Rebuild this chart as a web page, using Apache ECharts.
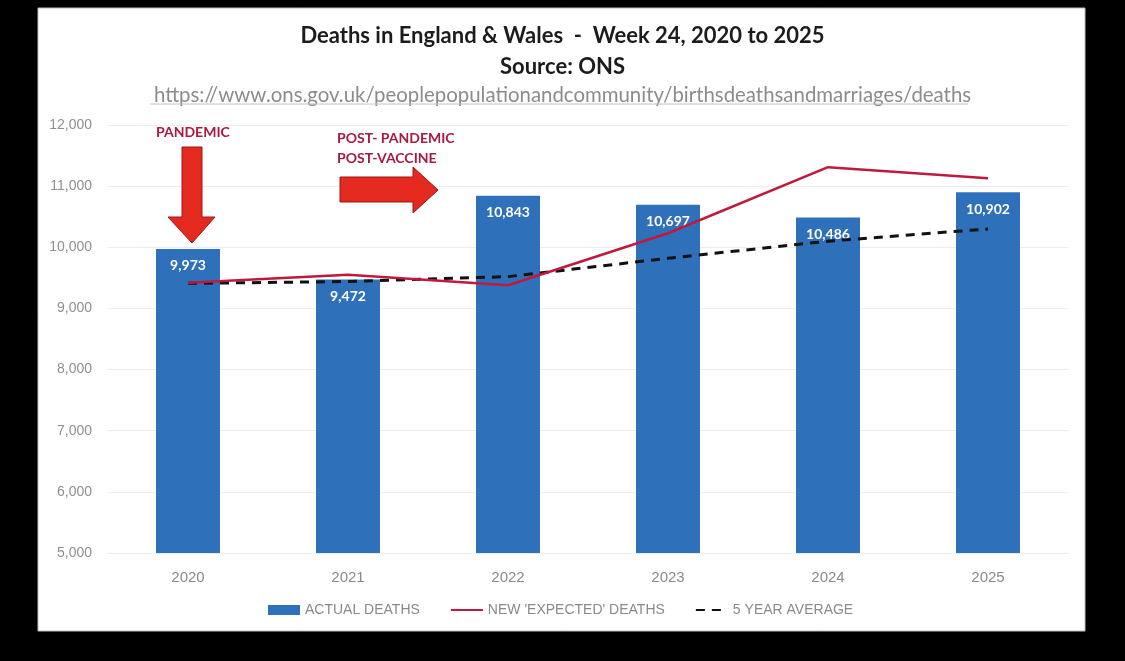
<!DOCTYPE html>
<html>
<head>
<meta charset="utf-8">
<script src="https://cdn.jsdelivr.net/npm/echarts@6/dist/echarts.min.js"></script>
<style>
html,body{margin:0;padding:0;background:#000;}
#chart{width:1125px;height:661px;}
</style>
</head>
<body>
<div id="chart"></div>
<script>
const years = ['2020', '2021', '2022', '2023', '2024', '2025'];
const actualDeaths = [9973, 9472, 10843, 10697, 10486, 10902];
const expectedDeaths = [9420, 9550, 9380, 10230, 11310, 11130];
const fiveYearAverage = [9410, 9440, 9520, 9820, 10100, 10300];
const yTicks = { min: 5000, max: 12000, interval: 1000 };

const chart = echarts.init(document.getElementById('chart'));
const red = '#e42a1f';
const redEdge = '#9e1414';
const annot = '#a81a40';

chart.setOption({
  backgroundColor: '#000',
  animation: false,
  title: [
    {
      text: 'Deaths in England & Wales  -  Week 24, 2020 to 2025',
      left: 'center', top: 20,
      textStyle: { fontFamily: 'Lato', fontWeight: 'bold', fontSize: 22, color: '#1c1c1c' }
    },
    {
      text: 'Source: ONS',
      left: 'center', top: 51,
      textStyle: { fontFamily: 'Lato', fontWeight: 'bold', fontSize: 22, color: '#1c1c1c' }
    },
    {
      text: 'https://www.ons.gov.uk/peoplepopulationandcommunity/birthsdeathsandmarriages/deaths',
      left: 'center', top: 80,
      textStyle: { fontFamily: 'Lato', fontWeight: 'normal', fontSize: 20.4, color: '#8c8c8c' }
    }
  ],
  grid: { left: 108, right: 57, top: 125, bottom: 108 },
  legend: {
    left: 263, top: 598,
    itemWidth: 32, itemHeight: 10, itemGap: 30,
    textStyle: { fontFamily: 'Liberation Sans', fontSize: 14, color: '#8a8a8a' },
    data: [
      { name: 'ACTUAL DEATHS', icon: 'rect' },
      { name: "NEW 'EXPECTED' DEATHS", itemStyle: { opacity: 0 } },
      { name: '5 YEAR AVERAGE', itemStyle: { opacity: 0 } }
    ]
  },
  xAxis: {
    type: 'category',
    data: years,
    axisLine: { show: false },
    axisTick: { show: false },
    axisLabel: { margin: 17, fontFamily: 'Liberation Sans', fontSize: 15, color: '#8a8a8a' }
  },
  yAxis: {
    type: 'value',
    min: yTicks.min, max: yTicks.max, interval: yTicks.interval,
    axisLabel: {
      margin: 16, fontFamily: 'Liberation Sans', fontSize: 14, color: '#8f8f8f',
      formatter: v => v.toLocaleString('en-US')
    },
    splitLine: { lineStyle: { color: '#ececec', width: 1 } }
  },
  series: [
    {
      name: 'ACTUAL DEATHS',
      type: 'bar',
      data: actualDeaths,
      barWidth: '40%',
      itemStyle: { color: '#2f70ba' },
      label: {
        show: true, position: 'insideTop', distance: 10,
        fontFamily: 'Lato', fontWeight: 'bold', fontSize: 14, color: '#ffffff',
        formatter: p => p.value.toLocaleString('en-US')
      },
      z: 2
    },
    {
      name: "NEW 'EXPECTED' DEATHS",
      type: 'line',
      data: expectedDeaths,
      symbol: 'none',
      lineStyle: { color: '#c0193f', width: 2.5 },
      itemStyle: { color: '#c0193f' },
      z: 4
    },
    {
      name: '5 YEAR AVERAGE',
      type: 'line',
      data: fiveYearAverage,
      symbol: 'none',
      lineStyle: { color: '#111111', width: 3, type: [9, 7] },
      itemStyle: { color: '#111111' },
      z: 3
    }
  ],
  graphic: [
    {
      type: 'rect', z: -10, silent: true,
      shape: { x: 38, y: 8, width: 1047, height: 623 },
      style: { fill: '#ffffff', stroke: '#bdbdbd', lineWidth: 1 }
    },
    {
      type: 'line', z: 10, silent: true,
      shape: { x1: 150, y1: 104, x2: 968, y2: 104 },
      style: { stroke: '#c4c4c4', lineWidth: 1 }
    },
    {
      type: 'text', z: 10, left: 156, top: 125,
      style: { text: 'PANDEMIC', fontFamily: 'Lato', fontWeight: 'bold', fontSize: 14, fill: annot }
    },
    {
      type: 'text', z: 10, left: 337, top: 128,
      style: { text: 'POST- PANDEMIC\nPOST-VACCINE', fontFamily: 'Lato', fontWeight: 'bold', fontSize: 14, lineHeight: 20, fill: annot }
    },
    {
      type: 'polygon', z: 10,
      shape: { points: [[182,147],[202,147],[202,217],[215,217],[192,243],[168,217],[182,217]] },
      style: { fill: red, stroke: redEdge, lineWidth: 1 }
    },
    {
      type: 'polygon', z: 10,
      shape: { points: [[340,177],[413,177],[413,167],[438,190],[413,213],[413,202],[340,202]] },
      style: { fill: red, stroke: redEdge, lineWidth: 1 }
    }
  ]
});
</script>
</body>
</html>
